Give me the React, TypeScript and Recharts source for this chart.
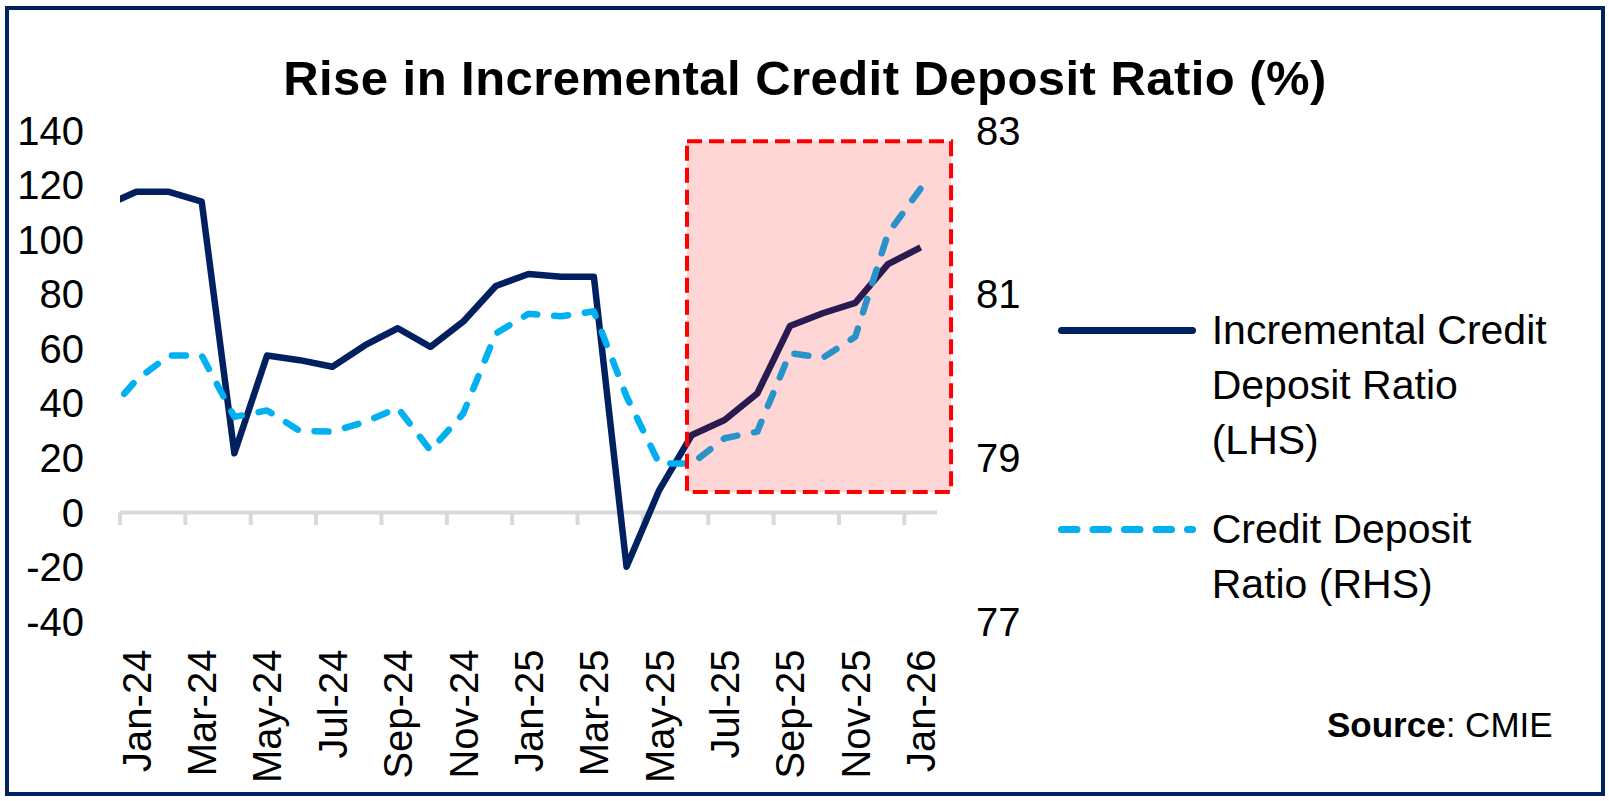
import React from 'react';
import { LineChart, Line, XAxis, YAxis, ReferenceArea, ReferenceLine, Legend } from 'recharts';

const FONT = '"Liberation Sans", Arial, sans-serif';
const NAVY = '#002060';
const CYAN = '#00B0F0';
const AXIS_GREY = '#D9D9D9';

// Months (first entry lies just left of the visible axis range)
const MONTHS = [
  'Dec-23',
  'Jan-24', 'Feb-24', 'Mar-24', 'Apr-24', 'May-24', 'Jun-24', 'Jul-24', 'Aug-24', 'Sep-24', 'Oct-24', 'Nov-24', 'Dec-24',
  'Jan-25', 'Feb-25', 'Mar-25', 'Apr-25', 'May-25', 'Jun-25', 'Jul-25', 'Aug-25', 'Sep-25', 'Oct-25', 'Nov-25', 'Dec-25',
  'Jan-26',
];

// Incremental Credit Deposit Ratio (LHS)
const ICDR = [
  112.1,
  117.5, 117.5, 113.9, 21.7, 57.5, 55.8, 53.4, 61.3, 67.5, 60.7, 69.9, 83.0,
  87.4, 86.4, 86.4, -19.9, 8.2, 28.4, 33.9, 43.6, 68.3, 73.0, 76.8, 91.0,
  97.1,
];

// Credit Deposit Ratio (RHS)
const CDR = [
  79.5,
  79.95, 80.25, 80.25, 79.5, 79.58, 79.33, 79.32, 79.44, 79.61, 79.09, 79.54, 80.52,
  80.76, 80.73, 80.79, 79.75, 78.93, 78.93, 79.24, 79.32, 80.28, 80.22, 80.48, 81.74,
  82.29,
];

const LEFT_TICKS = [-40, -20, 0, 20, 40, 60, 80, 100, 120, 140];
const RIGHT_TICKS = [77, 79, 81, 83];
const LABEL_TICKS = [0, 2, 4, 6, 8, 10, 12, 14, 16, 18, 20, 22, 24];
const TICK_MARKS = [-0.5, 1.5, 3.5, 5.5, 7.5, 9.5, 11.5, 13.5, 15.5, 17.5, 19.5, 21.5, 23.5];
const TICK_DEPTH = 4.6;

// Highlight box (month index / LHS units)
const BOX = { x1: 16.85, x2: 24.93, y1: 7.5, y2: 136 };

const LEGEND_LINES = [
  ['Incremental Credit', 'Deposit Ratio', '(LHS)'],
  ['Credit Deposit', 'Ratio (RHS)'],
];

const data = MONTHS.map((m, i) => ({ idx: i - 1, month: m, icdr: ICDR[i], cdr: CDR[i] }));

const XTick = (props: any) => {
  const { x, y, payload } = props;
  const label = MONTHS[payload.value + 1];
  return (
    <text
      x={x}
      y={y}
      transform={`rotate(-90 ${x} ${y})`}
      textAnchor="end"
      dy="0.36em"
      fontSize={40}
      fill="#000"
      fontFamily={FONT}
    >
      {label}
    </text>
  );
};

const LEGEND_LH = 55;

const LegendContent = () => {
  const styles = [
    { color: NAVY, dash: undefined as string | undefined },
    { color: CYAN, dash: '15.5 16' },
  ];
  return (
    <div style={{ fontFamily: FONT, fontSize: 41, color: '#000' }}>
      {LEGEND_LINES.map((lines, i) => (
        <div
          key={i}
          style={{ display: 'flex', alignItems: 'flex-start', marginBottom: i === 0 ? 34 : 0 }}
        >
          <svg width={138} height={LEGEND_LH} style={{ flex: '0 0 auto', display: 'block' }}>
            <line
              x1={3.5}
              x2={134.5}
              y1={LEGEND_LH / 2}
              y2={LEGEND_LH / 2}
              stroke={styles[i].color}
              strokeWidth={7}
              strokeLinecap="round"
              strokeDasharray={styles[i].dash}
            />
          </svg>
          <div style={{ marginLeft: 15.7, lineHeight: `${LEGEND_LH}px`, whiteSpace: 'nowrap' }}>
            {lines.map((t, j) => (
              <div key={j}>{t}</div>
            ))}
          </div>
        </div>
      ))}
    </div>
  );
};

export default function App() {
  return (
    <div
      style={{
        position: 'absolute',
        left: 0,
        top: 0,
        width: 1609,
        height: 801,
        background: '#ffffff',
        overflow: 'hidden',
        fontFamily: FONT,
      }}
    >
      <LineChart
        width={1609}
        height={801}
        data={data}
        margin={{ top: 130.4, right: 0, bottom: 0, left: 0 }}
      >
        <XAxis
          dataKey="idx"
          type="number"
          domain={[-0.5, 24.5]}
          allowDataOverflow
          ticks={LABEL_TICKS}
          interval={0}
          tick={<XTick />}
          tickLine={false}
          axisLine={false}
          height={179.4}
          tickSize={20}
          tickMargin={8}
        />
        <YAxis
          yAxisId="left"
          domain={[-40, 140]}
          ticks={LEFT_TICKS}
          interval={0}
          width={120}
          axisLine={false}
          tickLine={false}
          tickSize={28}
          tickMargin={8}
          tick={{ fontSize: 40, fill: '#000', fontFamily: FONT }}
        />
        <YAxis
          yAxisId="right"
          orientation="right"
          domain={[77, 83]}
          ticks={RIGHT_TICKS}
          interval={0}
          width={672}
          axisLine={false}
          tickLine={false}
          tickSize={30}
          tickMargin={9}
          tick={{ fontSize: 40, fill: '#000', fontFamily: FONT }}
        />
        <ReferenceLine yAxisId="left" y={0} stroke={AXIS_GREY} strokeWidth={4} />
        {TICK_MARKS.map((b) => (
          <ReferenceLine
            key={b}
            yAxisId="left"
            segment={[{ x: b, y: 0 }, { x: b, y: -TICK_DEPTH }]}
            stroke={AXIS_GREY}
            strokeWidth={4}
          />
        ))}
        <Line
          yAxisId="left"
          dataKey="icdr"
          name="Incremental Credit Deposit Ratio (LHS)"
          stroke={NAVY}
          strokeWidth={6.5}
          strokeLinejoin="round"
          dot={false}
          activeDot={false}
          isAnimationActive={false}
        />
        <Line
          yAxisId="right"
          dataKey="cdr"
          name="Credit Deposit Ratio (RHS)"
          stroke={CYAN}
          strokeWidth={6.5}
          strokeDasharray="14 17"
          strokeLinecap="round"
          strokeLinejoin="round"
          dot={false}
          activeDot={false}
          isAnimationActive={false}
        />
        <ReferenceArea
          yAxisId="left"
          x1={BOX.x1}
          x2={BOX.x2}
          y1={BOX.y1}
          y2={BOX.y2}
          fill="#FF0000"
          fillOpacity={0.16}
          stroke="#FF0000"
          strokeWidth={4}
          strokeDasharray="15 7"
          ifOverflow="visible"
          zIndex={1000}
        />
        <Legend
          layout="vertical"
          align="center"
          verticalAlign="middle"
          content={<LegendContent />}
          wrapperStyle={{ left: 1058, top: 302.7, width: 540 }}
        />
      </LineChart>

      <div
        style={{
          position: 'absolute',
          left: 0,
          top: 53.5,
          width: 1610,
          textAlign: 'center',
          fontSize: 49,
          lineHeight: '49px',
          fontWeight: 'bold',
          letterSpacing: 0.45,
          color: '#000',
          whiteSpace: 'nowrap',
        }}
      >
        Rise in Incremental Credit Deposit Ratio (%)
      </div>

      <div
        style={{
          position: 'absolute',
          left: 1327,
          top: 707.4,
          fontSize: 35,
          lineHeight: '35px',
          color: '#000',
          whiteSpace: 'nowrap',
        }}
      >
        <span style={{ fontWeight: 'bold' }}>Source</span>: CMIE
      </div>

      <div
        style={{
          position: 'absolute',
          left: 5,
          top: 6,
          width: 1600,
          height: 790,
          boxSizing: 'border-box',
          border: `4px solid ${NAVY}`,
          pointerEvents: 'none',
        }}
      />
    </div>
  );
}
